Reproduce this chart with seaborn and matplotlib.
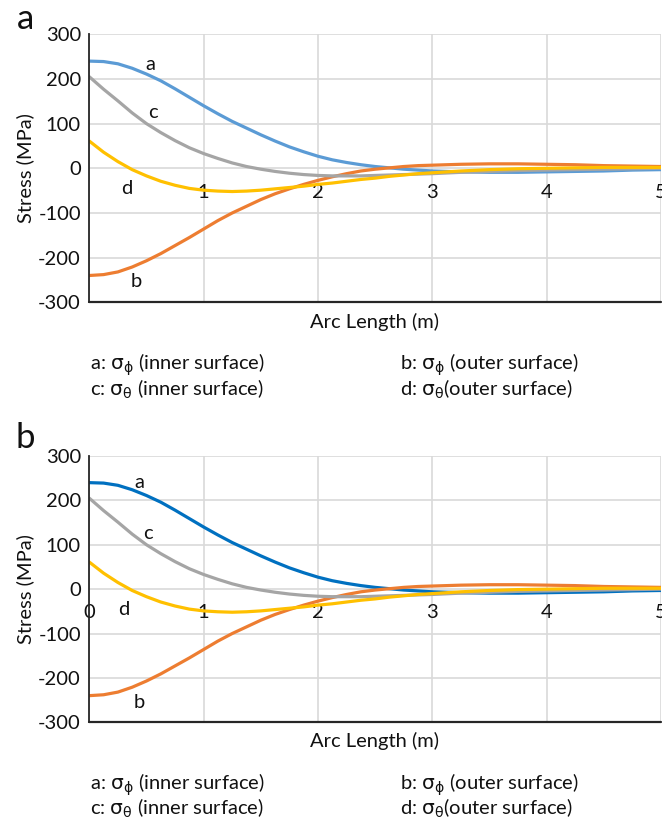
import pandas as pd
import seaborn as sns
import matplotlib.pyplot as plt

# arc length (m) and stresses (MPa)
arc = [0, 0.125, 0.25, 0.375, 0.5, 0.625, 0.75, 0.875, 1, 1.125, 1.25, 1.375,
       1.5, 1.625, 1.75, 1.875, 2, 2.125, 2.25, 2.375, 2.5, 2.625, 2.75, 2.875,
       3, 3.25, 3.5, 3.75, 4, 4.25, 4.5, 4.75, 5]
sig_phi_in = [240, 239, 234, 224, 211, 196, 178, 159, 140, 122, 105, 90,
              75, 61, 48, 37, 27, 19, 13, 8, 4, 1, -2, -4,
              -6, -8, -9, -9, -8, -7, -6, -4, -3]
sig_phi_out = [-240, -238, -232, -221, -207, -191, -173, -155, -136, -117, -100, -85,
               -70, -57, -46, -36, -27, -19, -12, -6, -2, 1, 4, 6,
               7, 9, 10, 10, 9, 8, 6, 5, 4]
sig_th_in = [205, 177, 151, 124, 100, 80, 62, 46, 33, 22, 12, 4,
             -2, -7, -11, -14, -16, -17, -17, -17, -16, -15, -14, -13,
             -12, -9, -7, -5, -4, -3, -2, -1, 0]
sig_th_out = [61, 36, 15, -3, -17, -29, -38, -45, -49, -51, -52, -51,
              -49, -46, -43, -40, -36, -33, -29, -25, -22, -18, -15, -12,
              -10, -6, -3, -1, 0, 1, 2, 2, 2]

curves = ["a", "b", "c", "d"]
series = [sig_phi_in, sig_phi_out, sig_th_in, sig_th_out]
xticks = [0, 1, 2, 3, 4, 5]
yticks = [-300, -200, -100, 0, 100, 200, 300]

df = pd.DataFrame({
    "arc": arc * 4,
    "stress": sum(series, []),
    "curve": [c for c in curves for _ in arc],
})

sns.set_theme(style="white")
plt.rcParams["font.family"] = ["Lato", "DejaVu Sans"]
plt.rcParams["axes.unicode_minus"] = False

fs = 14.5
ink = "#111111"

fig = plt.figure(figsize=(6.62, 8.19), dpi=100)

panels = [
    dict(letter="a", rect=[0.1349, 0.6309, 0.8636, 0.3272], blue="#5B9BD5",
         show0=False, letter_y=1 - 19 / 819, ylab_y=1 - 168.3 / 819,
         xlab_y=1 - 322 / 819, leg_y=[1 - 365 / 819, 1 - 389 / 819],
         labels={"a": (0.53, 233), "c": (0.56, 126), "d": (0.33, -46), "b": (0.41, -254)}),
    dict(letter="b", rect=[0.1349, 0.1181, 0.8636, 0.3251], blue="#0070C0",
         show0=True, letter_y=1 - 438 / 819, ylab_y=1 - 589 / 819,
         xlab_y=1 - 741 / 819, leg_y=[1 - 785 / 819, 1 - 808 / 819],
         labels={"a": (0.44, 240), "c": (0.51, 125), "d": (0.30, -45), "b": (0.44, -256)}),
]

for p in panels:
    ax = fig.add_axes(p["rect"])
    pal = {"a": p["blue"], "b": "#ED7D31", "c": "#A5A5A5", "d": "#FFC000"}
    sns.lineplot(data=df, x="arc", y="stress", hue="curve", hue_order=curves,
                 palette=pal, ax=ax, legend=False, lw=2.3,
                 estimator=None, sort=False)
    ax.set_xlim(0, 5)
    ax.set_ylim(-300, 300)
    ax.set_xticks(xticks)
    ax.set_xticklabels([str(t) if (t or p["show0"]) else "" for t in xticks])
    ax.set_yticks(yticks)
    ax.grid(True, color="#D9D9D9", lw=1.2)
    ax.set_axisbelow(True)
    ax.set_xlabel("")
    ax.set_ylabel("")
    for s in ["top", "right"]:
        ax.spines[s].set_visible(False)
    ax.spines["left"].set_color("#262626")
    ax.spines["left"].set_linewidth(1.3)
    # horizontal axis labels sit on the zero line, as in Excel
    ax.spines["bottom"].set_position(("data", 0))
    ax.spines["bottom"].set_visible(False)
    ax.axhline(-300, color="#262626", lw=1.6, clip_on=False)
    ax.tick_params(axis="x", length=0, pad=11, labelsize=fs, colors=ink)
    ax.tick_params(axis="y", length=0, pad=6, labelsize=fs, colors=ink)

    for k, (lx, ly) in p["labels"].items():
        ax.text(lx, ly, k, ha="center", va="center", fontsize=fs, color=ink)

    fig.text(25 / 662, p["letter_y"], p["letter"], fontsize=25,
             ha="center", va="center", color=ink)
    fig.text(25 / 662, p["ylab_y"], "Stress (MPa)", rotation=90, fontsize=fs,
             ha="center", va="center", color=ink)
    fig.text(375 / 662, p["xlab_y"], "Arc Length (m)", fontsize=fs,
             ha="center", va="center", color=ink)
    fig.text(90 / 662, p["leg_y"][0], r"a: $\mathrm{\sigma_{\phi}}$ (inner surface)",
             fontsize=fs, ha="left", va="center", color=ink)
    fig.text(400 / 662, p["leg_y"][0], r"b: $\mathrm{\sigma_{\phi}}$ (outer surface)",
             fontsize=fs, ha="left", va="center", color=ink)
    fig.text(90 / 662, p["leg_y"][1], r"c: $\mathrm{\sigma_{\theta}}$ (inner surface)",
             fontsize=fs, ha="left", va="center", color=ink)
    fig.text(400 / 662, p["leg_y"][1], r"d: $\mathrm{\sigma_{\theta}}$(outer surface)",
             fontsize=fs, ha="left", va="center", color=ink)

fig.savefig("out.png", dpi=100)
